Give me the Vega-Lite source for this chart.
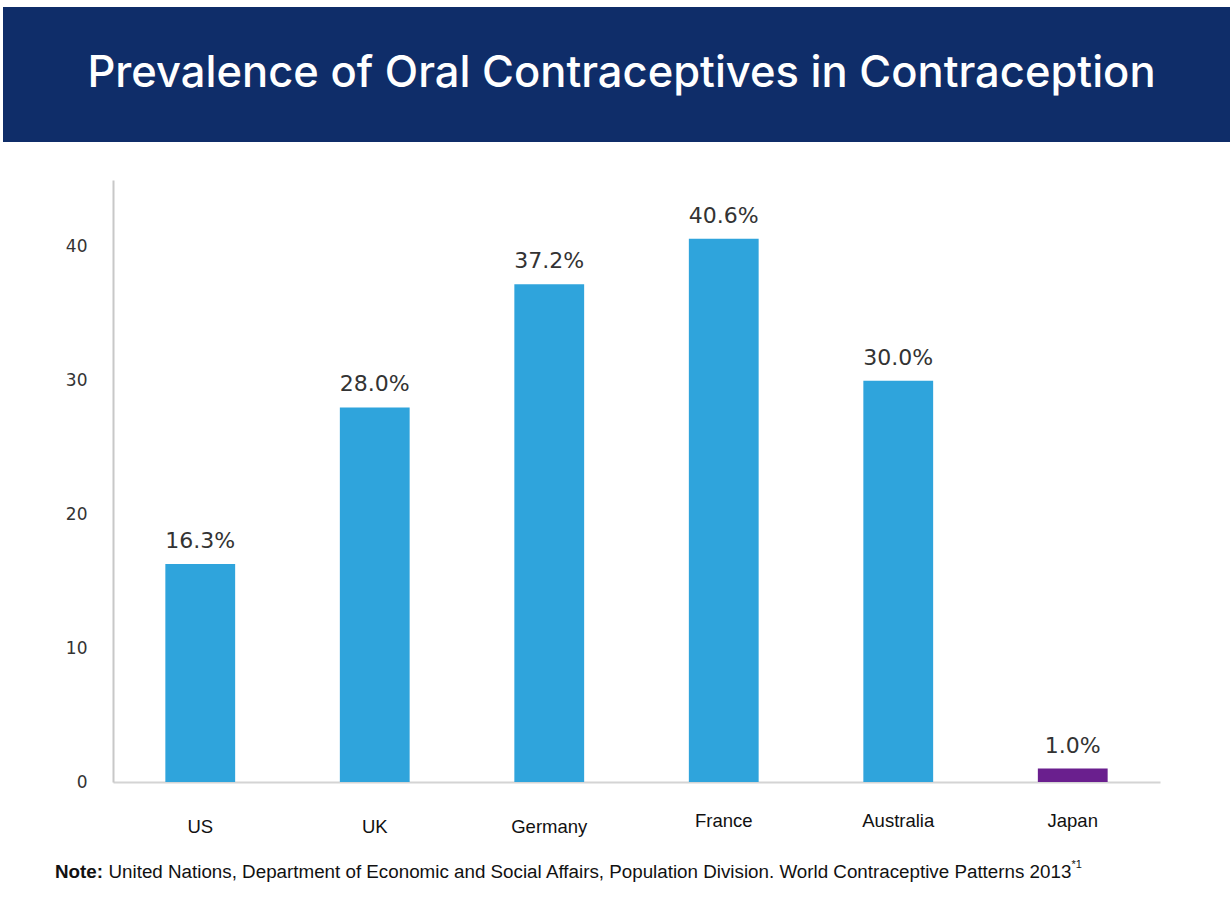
{
  "$schema": "https://vega.github.io/schema/vega-lite/v6.json",
  "padding": {"left": 3, "top": 7, "right": 0, "bottom": 0},
  "background": "white",
  "spacing": 38,
  "config": {"view": {"stroke": null}},
  "datasets": {
    "bars": [
      {"country": "US", "pct": 16.3, "label": "16.3%", "group": "other"},
      {"country": "UK", "pct": 28.0, "label": "28.0%", "group": "other"},
      {"country": "Germany", "pct": 37.2, "label": "37.2%", "group": "other"},
      {"country": "France", "pct": 40.6, "label": "40.6%", "group": "other"},
      {"country": "Australia", "pct": 30.0, "label": "30.0%", "group": "other"},
      {"country": "Japan", "pct": 1.0, "label": "1.0%", "group": "japan"}
    ],
    "title": [{"t": "Prevalence of Oral Contraceptives in Contraception"}],
    "note": [{"bold": "Note:", "rest": "United Nations, Department of Economic and Social Affairs, Population Division. World Contraceptive Patterns 2013", "sup": "*1"}]
  },
  "vconcat": [
    {
      "width": 1227,
      "height": 135,
      "view": {"fill": "#0f2d69", "stroke": null},
      "data": {"name": "title"},
      "mark": {"type": "text", "font": "Inter", "fontSize": 43.5, "color": "white", "fontWeight": 500, "baseline": "middle", "dx": 5, "dy": -1},
      "encoding": {"text": {"field": "t"}}
    },
    {
      "width": 1157,
      "height": 602,
      "layer": [
        {
          "data": {"name": "bars"},
          "mark": {"type": "bar"},
          "encoding": {
            "x": {
              "field": "country", "type": "nominal", "sort": null,
              "scale": {"range": [110, 1157], "paddingInner": 0.6, "paddingOuter": 0.3},
              "axis": {
                "title": null, "labelAngle": 0, "ticks": false,
                "domainColor": "#d4d4d4", "domainWidth": 2,
                "labelFont": "Liberation Sans", "labelFontSize": 18.5, "labelColor": "#111",
                "labelBaseline": "alphabetic",
                "labelPadding": {"condition": {"test": "indexof(['France','Australia','Japan'], datum.value) >= 0", "value": 44}, "value": 50}
              }
            },
            "y": {
              "field": "pct", "type": "quantitative",
              "scale": {"domain": [0, 45], "nice": false},
              "axis": {
                "title": null, "grid": false, "ticks": false, "values": [0, 10, 20, 30, 40],
                "domainColor": "#c8c8c8", "domainWidth": 2, "offset": -110,
                "labelFont": "DejaVu Sans", "labelFontSize": 17, "labelColor": "#333",
                "labelPadding": 26
              }
            },
            "color": {
              "field": "group", "type": "nominal",
              "scale": {"domain": ["other", "japan"], "range": ["#2fa4dc", "#6a1f8e"]},
              "legend": null
            }
          }
        },
        {
          "data": {"name": "bars"},
          "mark": {"type": "text", "font": "DejaVu Sans", "fontSize": 22, "color": "#333", "baseline": "alphabetic", "dy": -16},
          "encoding": {
            "x": {"field": "country", "type": "nominal", "sort": null},
            "y": {"field": "pct", "type": "quantitative"},
            "text": {"field": "label"}
          }
        },
        {
          "data": {"name": "note"},
          "mark": {"type": "text", "font": "Liberation Sans", "fontSize": 18.8, "fontWeight": "bold", "color": "#111", "align": "left", "baseline": "middle", "dx": -526.5, "dy": 391},
          "encoding": {"text": {"field": "bold"}}
        },
        {
          "data": {"name": "note"},
          "mark": {"type": "text", "font": "Liberation Sans", "fontSize": 18.8, "color": "#111", "align": "left", "baseline": "middle", "dx": -473, "dy": 391},
          "encoding": {"text": {"field": "rest"}}
        },
        {
          "data": {"name": "note"},
          "mark": {"type": "text", "font": "Liberation Sans", "fontSize": 11, "color": "#111", "align": "left", "baseline": "middle", "dx": 490, "dy": 384},
          "encoding": {"text": {"field": "sup"}}
        }
      ]
    }
  ]
}
